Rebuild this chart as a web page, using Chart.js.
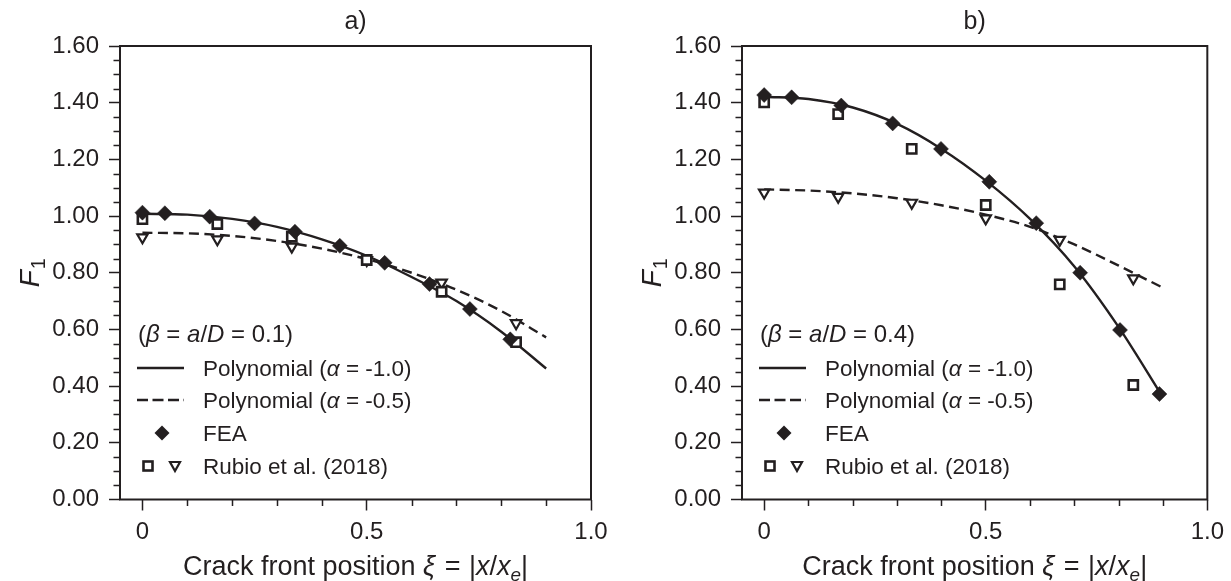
<!DOCTYPE html>
<html>
<head>
<meta charset="utf-8">
<script src="https://cdn.jsdelivr.net/npm/chart.js@4.4.0/dist/chart.umd.min.js"></script>
<style>
  html, body { margin: 0; padding: 0; background: #fff; }
  #wrap { position: relative; width: 1231px; height: 581px; }
  .panel { position: absolute; top: 0; }
  #pa { left: 0; }
  #pb { left: 615px; }
</style>
</head>
<body>
<div id="wrap">
  <div class="panel" id="pa"><canvas id="chartA" width="615" height="581"></canvas></div>
  <div class="panel" id="pb"><canvas id="chartB" width="616" height="581"></canvas></div>
</div>
<script>
// Values

// polynomial curves (sampled along xi)
const polyX = [0, 0.1, 0.2, 0.3, 0.4, 0.5, 0.6, 0.7, 0.8, 0.9];
const polyA_m10 = [1.008, 1.005, 0.990, 0.962, 0.918, 0.860, 0.785, 0.700, 0.592, 0.462];
const polyA_m05 = [0.941, 0.939, 0.930, 0.912, 0.885, 0.848, 0.800, 0.740, 0.665, 0.572];
const polyB_m10 = [1.421, 1.413, 1.383, 1.325, 1.237, 1.125, 0.990, 0.822, 0.608, 0.360];
const polyB_m05 = [1.094, 1.090, 1.080, 1.063, 1.038, 1.005, 0.962, 0.900, 0.825, 0.747];

// FEA results
const feaA_x = [0, 0.05, 0.15, 0.25, 0.34, 0.44, 0.54, 0.64, 0.73, 0.82];
const feaA_y = [1.012, 1.010, 0.998, 0.974, 0.945, 0.895, 0.835, 0.760, 0.672, 0.565];
const feaB_x = [0, 0.062, 0.174, 0.29, 0.399, 0.508, 0.614, 0.713, 0.803, 0.892];
const feaB_y = [1.427, 1.419, 1.390, 1.327, 1.237, 1.121, 0.975, 0.800, 0.598, 0.372];

// Rubio et al. (2018)
const rubioX = [0, 0.167, 0.333, 0.5, 0.667, 0.833];
const rubioSqA = [0.989, 0.972, 0.927, 0.845, 0.733, 0.555];
const rubioTriA = [0.925, 0.918, 0.892, 0.845, 0.765, 0.622];
const rubioSqB = [1.401, 1.360, 1.237, 1.039, 0.759, 0.404];
const rubioTriB = [1.083, 1.068, 1.047, 0.992, 0.916, 0.780];

// axis ticks
const yMajor = [0, 0.2, 0.4, 0.6, 0.8, 1.0, 1.2, 1.4, 1.6];
const xMajor = [0, 0.5, 1.0];
const xTickLabels = ['0', '0.5', '1.0'];

const INK = '#231f20';
const FONT = '"Liberation Sans", Arial, Helvetica, sans-serif';

const pts = (xs, ys) => xs.map((x, i) => ({ x: x, y: ys[i] }));
const isMajorY = v => yMajor.some(m => Math.abs(m - v) < 1e-6);
const isMajorX = v => xMajor.some(m => Math.abs(m - v) < 1e-6);

// text pieces: t, it (italic), sub (subscript), gap (extra px after)
function richWidth(ctx, parts, size) {
  let w = 0;
  parts.forEach(p => {
    const s = p.sub ? size * 0.7 : size;
    ctx.font = (p.it ? 'italic ' : '') + s + 'px ' + FONT;
    w += ctx.measureText(p.t).width + (p.gap || 0);
  });
  return w;
}
function richText(ctx, parts, x, y, size, align) {
  let cx = x;
  if (align === 'center') cx = x - richWidth(ctx, parts, size) / 2;
  ctx.textAlign = 'left';
  ctx.textBaseline = 'alphabetic';
  ctx.fillStyle = INK;
  parts.forEach(p => {
    const s = p.sub ? size * 0.7 : size;
    ctx.font = (p.it ? 'italic ' : '') + s + 'px ' + FONT;
    ctx.fillText(p.t, cx, p.sub ? y + size * 0.22 : y);
    cx += ctx.measureText(p.t).width + (p.gap || 0);
  });
}

function diamond(ctx, x, y, r) {
  ctx.beginPath();
  ctx.moveTo(x, y - r); ctx.lineTo(x + r, y); ctx.lineTo(x, y + r); ctx.lineTo(x - r, y);
  ctx.closePath();
  ctx.fillStyle = INK; ctx.fill();
}

// frame, minor ticks, titles, legend
const panelDeco = {
  id: 'panelDeco',
  afterDraw(chart, args, opts) {
    const ctx = chart.ctx;
    const a = chart.chartArea;
    const xs = chart.scales.x, ys = chart.scales.y;
    ctx.save();
    ctx.strokeStyle = INK;
    ctx.lineWidth = 2;
    ctx.strokeRect(a.left, a.top, a.right - a.left, a.bottom - a.top);

    // minor ticks
    ctx.lineWidth = 1.5;
    ctx.beginPath();
    ys.ticks.forEach(t => {
      if (isMajorY(t.value)) return;
      const py = Math.round(ys.getPixelForValue(t.value)) + 0.5;
      ctx.moveTo(a.left, py); ctx.lineTo(a.left - 6.5, py);
    });
    xs.ticks.forEach(t => {
      if (isMajorX(t.value)) return;
      const px = Math.round(xs.getPixelForValue(t.value)) + 0.5;
      ctx.moveTo(px, a.bottom); ctx.lineTo(px, a.bottom + 6.5);
    });
    ctx.stroke();

    const cx = (a.left + a.right) / 2;
    // panel title
    richText(ctx, [{ t: opts.title }], cx, 29, 25, 'center');
    // x axis title
    richText(ctx, [
      { t: 'Crack front position ' }, { t: 'ξ', it: true, gap: 2 }, { t: ' = ', gap: 1 }, { t: '|' },
      { t: 'x', it: true }, { t: '/' }, { t: 'x', it: true }, { t: 'e', it: true, sub: true }, { t: '|' }
    ], cx, 575, 27, 'center');
    // y axis title
    ctx.save();
    ctx.translate(a.left - 91, (a.top + a.bottom) / 2);
    ctx.rotate(-Math.PI / 2);
    richText(ctx, [{ t: 'F', it: true, gap: 1 }, { t: '1', sub: true }], 0, 10, 28, 'center');
    ctx.restore();

    // legend
    const L = a.left, B = a.bottom;
    richText(ctx, [{ t: '(' }, { t: 'β', it: true }, { t: ' = ' }, { t: 'a', it: true }, { t: '/' },
      { t: 'D', it: true }, { t: ' = ' + opts.beta + ')' }], L + 18, B - 158, 24);
    const rows = [
      [{ t: 'Polynomial (' }, { t: 'α', it: true }, { t: ' = -1.0)' }],
      [{ t: 'Polynomial (' }, { t: 'α', it: true }, { t: ' = -0.5)' }],
      [{ t: 'FEA' }],
      [{ t: 'Rubio et al. (2018)' }]
    ];
    const base = [B - 123.5, B - 91.5, B - 58.5, B - 25.5];
    rows.forEach((r, i) => richText(ctx, r, L + 83, base[i], 22.5));
    const mid = base.map(b => b - 8);
    ctx.strokeStyle = INK;
    ctx.lineWidth = 2.3;
    ctx.beginPath(); ctx.moveTo(L + 17, mid[0]); ctx.lineTo(L + 64, mid[0]); ctx.stroke();
    ctx.setLineDash([11, 4.5]);
    ctx.beginPath(); ctx.moveTo(L + 17, mid[1]); ctx.lineTo(L + 64, mid[1]); ctx.stroke();
    ctx.setLineDash([]);
    diamond(ctx, L + 42, mid[2], 7.5);
    ctx.fillStyle = '#fff';
    ctx.lineWidth = 2.6;
    ctx.fillRect(L + 23.5, mid[3] - 4.5, 9, 9);
    ctx.strokeRect(L + 23.5, mid[3] - 4.5, 9, 9);
    ctx.lineWidth = 2.2;
    ctx.beginPath();
    ctx.moveTo(L + 50, mid[3] - 4); ctx.lineTo(L + 60, mid[3] - 4); ctx.lineTo(L + 55, mid[3] + 5);
    ctx.closePath(); ctx.fill(); ctx.stroke();
    ctx.restore();
  }
};

function makePanel(canvasId, title, beta, fea, sq, tri, solid, dashed, yWidth, padRight) {
  new Chart(document.getElementById(canvasId), {
    type: 'scatter',
    data: {
      datasets: [
        { data: fea, pointStyle: 'rectRot', pointRadius: 7.5, backgroundColor: INK, borderColor: INK, borderWidth: 0.5 },
        { data: sq, pointStyle: 'rect', pointRadius: 6.5, backgroundColor: '#fff', borderColor: INK, borderWidth: 2.6 },
        { data: tri, pointStyle: 'triangle', pointRotation: 180, pointRadius: 6, backgroundColor: '#fff', borderColor: INK, borderWidth: 2.2 },
        { data: solid, showLine: true, pointRadius: 0, borderColor: INK, borderWidth: 2.4, cubicInterpolationMode: 'monotone' },
        { data: dashed, showLine: true, pointRadius: 0, borderColor: INK, borderWidth: 2.4, borderDash: [10, 5.5], cubicInterpolationMode: 'monotone' }
      ]
    },
    options: {
      responsive: false,
      animation: false,
      layout: { padding: { top: 46, right: padRight, bottom: 0, left: 0 } },
      plugins: { legend: { display: false }, tooltip: { enabled: false },
        panelDeco: { title: title, beta: beta } },
      scales: {
        x: {
          type: 'linear', min: -0.05, max: 1.0,
          afterFit(s) { s.height = 81.5; },
          border: { display: false },
          grid: { drawOnChartArea: false, drawTicks: true, tickLength: 11, tickWidth: 1.5,
            tickColor: c => isMajorX(c.tick.value) ? INK : 'rgba(0,0,0,0)' },
          ticks: { stepSize: 0.1, includeBounds: false, autoSkip: false, maxRotation: 0, padding: 7,
            color: INK, font: { family: FONT, size: 24 },
            callback: v => { const i = xMajor.findIndex(m => Math.abs(m - v) < 1e-6); return i >= 0 ? xTickLabels[i] : ''; } }
        },
        y: {
          type: 'linear', min: 0, max: 1.6,
          afterFit(s) { s.width = yWidth; },
          border: { display: false },
          grid: { drawOnChartArea: false, drawTicks: true, tickLength: 11, tickWidth: 1.5,
            tickColor: c => isMajorY(c.tick.value) ? INK : 'rgba(0,0,0,0)' },
          ticks: { stepSize: 0.05, autoSkip: false, padding: 10,
            color: INK, font: { family: FONT, size: 24 },
            callback: v => isMajorY(v) ? v.toFixed(2) : '' }
        }
      }
    },
    plugins: [panelDeco]
  });
}

makePanel('chartA', 'a)', '0.1',
  pts(feaA_x, feaA_y), pts(rubioX, rubioSqA), pts(rubioX, rubioTriA),
  pts(polyX, polyA_m10), pts(polyX, polyA_m05), 120, 24);
makePanel('chartB', 'b)', '0.4',
  pts(feaB_x, feaB_y), pts(rubioX, rubioSqB), pts(rubioX, rubioTriB),
  pts(polyX, polyB_m10), pts(polyX, polyB_m05), 127, 18);
</script>
</body>
</html>
